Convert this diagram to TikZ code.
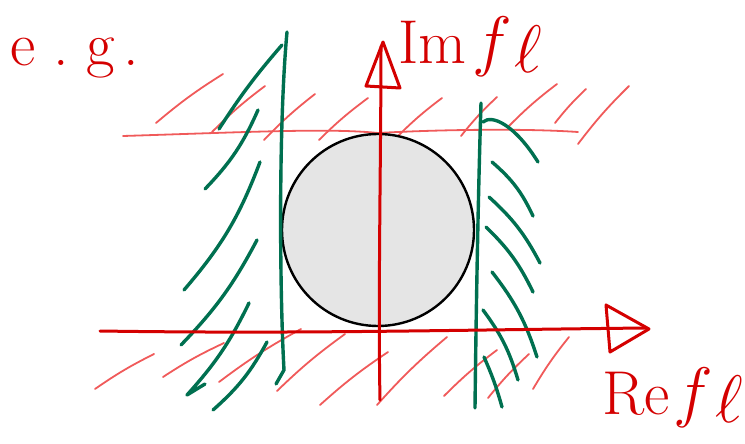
\documentclass[tikz,border=0pt]{standalone}
\definecolor{penred}{RGB}{212,0,0}
\definecolor{hatchred}{RGB}{240,90,90}
\definecolor{pengreen}{RGB}{0,112,80}
\definecolor{discgray}{RGB}{229,229,229}
\newcommand{\fell}{\scalebox{2.7}{$f\kern1pt\raisebox{-3pt}{$\ell$}$}}
\begin{document}
\begin{tikzpicture}[x=1pt,y=-1pt,line cap=round,line join=round,
  axis/.style={penred,line width=3pt},
  hatch/.style={hatchred,line width=1.8pt},
  wall/.style={pengreen,line width=3.4pt},
  label/.style={penred,font=\fontsize{62}{66}\selectfont}]
\useasboundingbox (0,0) rectangle (745,444);
\draw[hatch] (123,136) .. controls (250,132) and (330,128) .. (378,133) .. controls (430,130) and (520,128) .. (578,132);
\draw[hatch] (156,123) to[bend left=4] (223,74);
\draw[hatch] (212,132) to[bend left=4] (265,86);
\draw[hatch] (264,140) to[bend left=4] (315,94);
\draw[hatch] (319,140) to[bend left=4] (368,98);
\draw[hatch] (396,138) to[bend left=4] (442,98);
\draw[hatch] (461,136) to[bend left=4] (497,97);
\draw[hatch] (508,127) to[bend left=4] (557,84);
\draw[hatch] (555,123) to[bend left=4] (586,89);
\draw[hatch] (578,144) to[bend left=4] (629,86);
\draw[hatch] (95,389) to[bend left=4] (154,354);
\draw[hatch] (163,377) to[bend left=4] (224,343);
\draw[hatch] (219,382) to[bend left=4] (301,329);
\draw[hatch] (277,391) to[bend left=4] (345,334);
\draw[hatch] (320,405) to[bend left=4] (388,352);
\draw[hatch] (377,405) to[bend left=4] (447,337);
\draw[hatch] (444,396) to[bend left=4] (497,350);
\draw[hatch] (488,398) to[bend left=4] (529,354);
\draw[hatch] (533,389) to[bend left=4] (569,337);
\draw[black,line width=2.4pt,fill=discgray] (378,230) circle (96);
\draw[wall] (287,32) .. controls (278,130) and (280,300) .. (284,370) -- (276,384);
\draw[wall] (282,45) to[bend right=4] (219,129);
\draw[wall] (258,110) to[bend left=10] (205,189);
\draw[wall] (260,162) to[bend left=10] (184,290);
\draw[wall] (257,240) to[bend left=8] (181,345);
\draw[wall] (249,303) to[bend left=8] (187,395) -- (205,384);
\draw[wall] (267,342) to[bend left=10] (213,410);
\draw[wall] (481,103) .. controls (478,200) and (476,320) .. (475,408);
\draw[wall] (483,122) .. controls (492,114) and (515,125) .. (538,162);
\draw[wall] (492,162) to[bend left=12] (533,216);
\draw[wall] (489,197) to[bend left=10] (540,263);
\draw[wall] (486,227) to[bend left=10] (533,292);
\draw[wall] (492,272) to[bend left=10] (537,357);
\draw[wall] (483,310) to[bend left=10] (518,380);
\draw[wall] (484,357) to[bend left=4] (502,407);
\draw[axis] (100,331) .. controls (300,334) and (450,330) .. (646,328);
\draw[axis] (606,305) -- (649,329) -- (610,352) -- cycle;
\draw[axis] (380,400) .. controls (378,300) and (381,150) .. (381,46);
\draw[axis] (366,86) -- (383,42) -- (400,88) -- cycle;
\node[label,anchor=base west,inner sep=0pt] (im) at (398,64) {Im\hspace{6pt}\fell};
\node[label,anchor=base west,inner sep=0pt] (re) at (602,414) {Re\hspace{4pt}\fell};
\node[label,anchor=base west,inner sep=0pt] (eg) at (10,66) {e\hspace{18pt}.\hspace{18pt}g\hspace{8pt}.};
\end{tikzpicture}
\end{document}
